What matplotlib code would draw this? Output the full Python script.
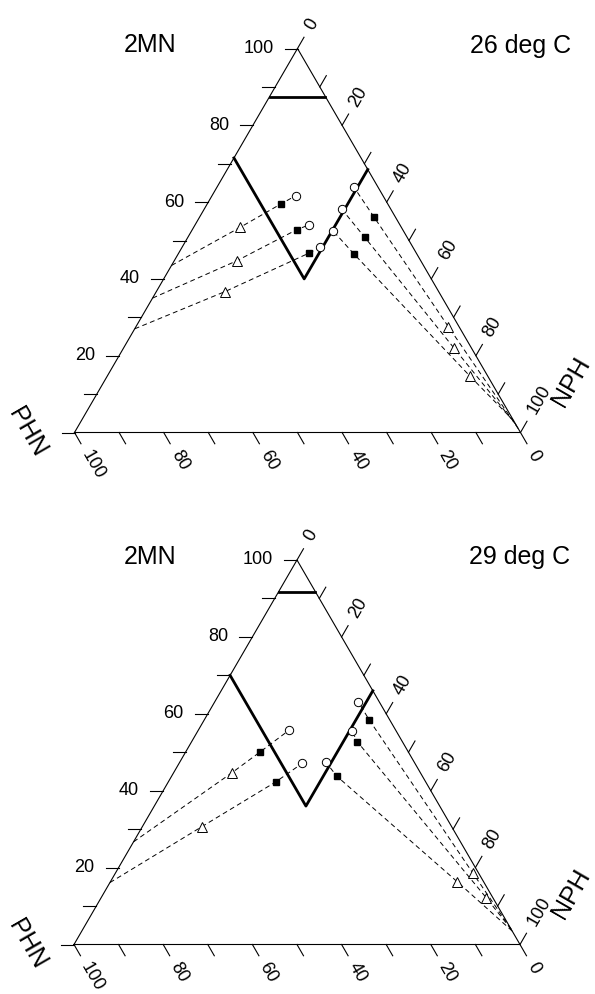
import matplotlib.pyplot as plt

plt.rcParams['font.family'] = ['Liberation Sans', 'DejaVu Sans']

FIG_W, FIG_H = 595, 994

tick_vals = [0, 10, 20, 30, 40, 50, 60, 70, 80, 90, 100]
left_labels = [20, 40, 60, 80, 100]
edge_labels = [0, 20, 40, 60, 80, 100]

# compositions, in % (PHN = 100 - 2MN - NPH)
# --- 26 deg C ---
top26_2mn = 87.5
v26_2mn = [71.5, 40.0, 68.5]
v26_nph = [0.0, 31.5, 31.5]
end26_2mn = [43.5, 35.0, 27.0, 1.0, 2.0, 3.0]
end26_nph = [0.0, 0.0, 0.0, 99.0, 98.0, 97.0]
tri26_2mn = [53.4, 44.7, 36.7, 27.6, 21.9, 14.7]
tri26_nph = [10.4, 14.0, 15.4, 70.0, 74.2, 81.3]
sq26_2mn = [59.5, 52.8, 46.7, 56.2, 50.8, 46.5]
sq26_nph = [16.5, 23.4, 29.2, 39.0, 39.7, 39.4]
circ26_2mn = [61.7, 54.1, 48.2, 63.9, 58.2, 52.6]
circ26_nph = [18.8, 25.6, 30.9, 30.7, 30.8, 31.6]

# --- 29 deg C ---
top29_2mn = 91.75
v29_2mn = [70.0, 36.0, 66.0]
v29_nph = [0.0, 34.0, 34.0]
end29_2mn = [26.7, 16.1, 4.0, 4.0, 3.5]
end29_nph = [0.0, 0.0, 96.0, 96.0, 96.5]
tri29_2mn = [44.7, 30.6, 18.7, 12.2, 16.3]
tri29_nph = [13.1, 13.3, 80.0, 86.3, 77.8]
sq29_2mn = [50.1, 42.3, 58.3, 52.7, 43.8]
sq29_nph = [16.7, 24.1, 37.1, 37.2, 37.0]
circ29_2mn = [55.8, 47.1, 63.1, 55.6, 47.5]
circ29_nph = [20.4, 27.6, 32.2, 34.5, 32.7]


def to_xy(mn, nph):
    """2MN at the top, NPH at bottom right, PHN at bottom left"""
    xs = [n / 100 + m / 200 for m, n in zip(mn, nph)]
    ys = [m / 100 for m in mn]
    return xs, ys


fig = plt.figure(figsize=(FIG_W / 100, FIG_H / 100), dpi=100)


def draw_panel(x0, y0, side, height, temp, top_2mn, v_mn, v_nph,
               e_mn, e_nph, t_mn, t_nph, s_mn, s_nph, c_mn, c_nph):
    ax = fig.add_axes([x0 / FIG_W, 1 - y0 / FIG_H, side / FIG_W, height / FIG_H])
    ax.set_xlim(0, 1)
    ax.set_ylim(0, 1)
    ax.axis('off')
    kw = dict(color='black', lw=0.8, clip_on=False)
    ax.plot([0, 1, 0.5, 0], [0, 0, 1, 0], **kw)

    tick = 13
    for v in tick_vals:
        f = v / 100
        # left axis: 2MN
        ax.plot([f / 2, f / 2 - tick / side], [f, f], **kw)
        if v in left_labels:
            ax.text(f / 2 - 24 / side, f, str(v), ha='right', va='center', fontsize=13)
        # bottom axis: PHN
        bx = 1 - f
        ax.plot([bx, bx + 0.5 * tick / side], [0, -0.866 * tick / height], **kw)
        if v in edge_labels:
            ax.text(bx + 0.5 * 22 / side, -0.866 * 22 / height, str(v), rotation=-60,
                    rotation_mode='anchor', ha='left', va='center', fontsize=13)
        # right axis: NPH
        rx, ry = 0.5 + f / 2, 1 - f
        ax.plot([rx, rx + 0.5 * tick / side], [ry, ry + 0.866 * tick / height], **kw)
        if v in edge_labels:
            ax.text(rx + 0.5 * 23 / side, ry + 0.866 * 23 / height, str(v), rotation=60,
                    rotation_mode='anchor', ha='left', va='center', fontsize=13)

    # phase boundaries
    lx, ly = to_xy([top_2mn, top_2mn], [0, 100 - top_2mn])
    ax.plot(lx, ly, color='black', lw=2, clip_on=False)
    vx, vy = to_xy(v_mn, v_nph)
    ax.plot(vx, vy, color='black', lw=2, clip_on=False)

    # tie lines
    for i in range(len(e_mn)):
        px, py = to_xy([e_mn[i], t_mn[i], s_mn[i], c_mn[i]],
                       [e_nph[i], t_nph[i], s_nph[i], c_nph[i]])
        ax.plot(px, py, color='black', lw=0.7, linestyle=(0, (5, 3.5)), clip_on=False)

    tx, ty = to_xy(t_mn, t_nph)
    ax.plot(tx, ty, '^', ms=6.5, mfc='white', mec='black', mew=0.7, clip_on=False)
    sx, sy = to_xy(s_mn, s_nph)
    ax.plot(sx, sy, 's', ms=4.8, mfc='black', mec='black', clip_on=False)
    cx, cy = to_xy(c_mn, c_nph)
    ax.plot(cx, cy, 'o', ms=6, mfc='white', mec='black', mew=0.7, clip_on=False)

    # titles and corner names
    fig.text(150 / FIG_W, 1 - (y0 - height - 3) / FIG_H, '2MN',
             ha='center', va='center', fontsize=18)
    fig.text((x0 + side) / FIG_W, 1 - (y0 - height - 3) / FIG_H, temp,
             ha='center', va='center', fontsize=18)
    fig.text((x0 - 47) / FIG_W, 1 - y0 / FIG_H, 'PHN', rotation=-60,
             ha='center', va='center', fontsize=18)
    fig.text((x0 + side + 51) / FIG_W, 1 - (y0 - 51) / FIG_H, 'NPH', rotation=60,
             ha='center', va='center', fontsize=18)


draw_panel(74.5, 432.5, 446, 384, '26 deg C', top26_2mn, v26_2mn, v26_nph,
           end26_2mn, end26_nph, tri26_2mn, tri26_nph, sq26_2mn, sq26_nph,
           circ26_2mn, circ26_nph)
draw_panel(74, 944.5, 446, 384.5, '29 deg C', top29_2mn, v29_2mn, v29_nph,
           end29_2mn, end29_nph, tri29_2mn, tri29_nph, sq29_2mn, sq29_nph,
           circ29_2mn, circ29_nph)

fig.savefig('out.png', dpi=100, facecolor='white')
